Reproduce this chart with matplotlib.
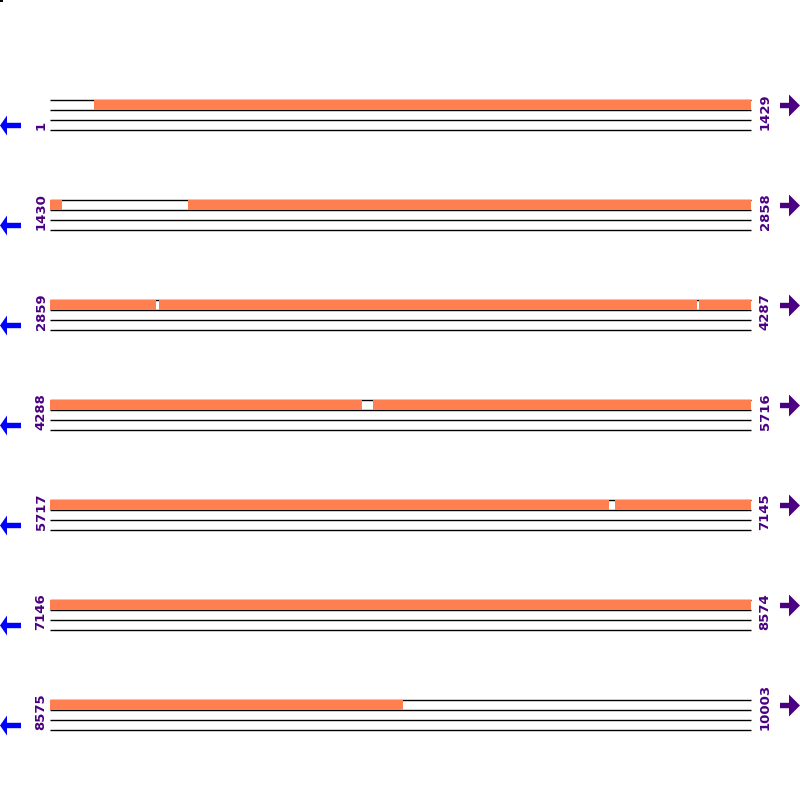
"""
Sequence coverage map: 10003 positions wrapped into rows of 1429, with
covered stretches in coral and uncovered gaps left as open boxes.
"""
import matplotlib

matplotlib.use("Agg")
import matplotlib.pyplot as plt
from matplotlib.patches import Polygon, Rectangle

# one row per 1429 positions
row_starts = [1, 1430, 2859, 4288, 5717, 7146, 8575]
row_ends = [1429, 2858, 4287, 5716, 7145, 8574, 10003]
row_width = 1429

# uncovered stretches (first, last position, inclusive)
gap_starts = [1, 1454, 3076, 4177, 4924, 6857, 9295]
gap_ends = [90, 1710, 3080, 4181, 4946, 6868, 10003]

CORAL = "#ff7f50"
INDIGO = "#4b0082"
BLUE = "#0000ff"

# layout in pixels of the 800x800 image
TRACK_LEFT, TRACK_RIGHT = 50, 751
PX = row_width / (TRACK_RIGHT - TRACK_LEFT)  # positions per pixel


def covered_intervals(start, end):
    """Split one row into covered pieces, skipping the gaps."""
    pieces = []
    cur = start
    for gs, ge in sorted(zip(gap_starts, gap_ends)):
        if ge < start or gs > end:
            continue
        if gs > cur:
            pieces.append((cur, gs - 1))
        cur = max(cur, ge + 1)
    if cur <= end:
        pieces.append((cur, end))
    return pieces


fig = plt.figure(figsize=(8, 8), dpi=100)
ax = fig.add_axes([0, 0, 1, 1])
ax.set_xlim(-TRACK_LEFT * PX, (800 - TRACK_LEFT) * PX)
ax.set_ylim(7.0, -1.0)  # one row every 100 px, first bar at 100 px
ax.axis("off")

for r, (start, end) in enumerate(zip(row_starts, row_ends)):
    x0, x1 = 0, row_width
    # open box outline of the coverage track plus two empty tracks below
    for yy in (0.0, 0.1, 0.2, 0.3):
        ax.plot([x0, x1], [r + yy, r + yy], color="black", lw=1.0,
                solid_capstyle="butt", zorder=1)
    for cs, ce in covered_intervals(start, end):
        ax.add_patch(Rectangle((cs - start, r - 0.003), ce - cs + 1, 0.106,
                               facecolor=CORAL, edgecolor="none", zorder=2))

    label_style = dict(textcoords="offset pixels", rotation=90, ha="center",
                       va="bottom", color=INDIGO, fontsize=9.5,
                       fontweight="bold", family="DejaVu Sans")
    ax.annotate(str(start), (0, r + 0.305), xytext=(-9, 0), **label_style)
    ax.annotate(str(end), (row_width, r + 0.305), xytext=(14, 0), **label_style)

    # strand arrows: blue pointing left, indigo pointing right
    cy = r + 0.255
    left = [(0, cy), (7, cy - 0.10), (7, cy - 0.027), (21, cy - 0.027),
            (21, cy + 0.027), (7, cy + 0.027), (7, cy + 0.10)]
    ax.add_patch(Polygon([((px - TRACK_LEFT) * PX, y) for px, y in left],
                         closed=True, facecolor=BLUE, edgecolor="none"))
    cy = r + 0.055
    right = [(800, cy), (789, cy - 0.11), (789, cy - 0.027), (780, cy - 0.027),
             (780, cy + 0.027), (789, cy + 0.027), (789, cy + 0.11)]
    ax.add_patch(Polygon([((px - TRACK_LEFT) * PX, y) for px, y in right],
                         closed=True, facecolor=INDIGO, edgecolor="none"))

# tiny corner mark present in the original
fig.patches.append(Rectangle((0, 0.9975), 0.0035, 0.0025, transform=fig.transFigure,
                             facecolor="black", edgecolor="none"))

fig.savefig("out.png", dpi=100)
